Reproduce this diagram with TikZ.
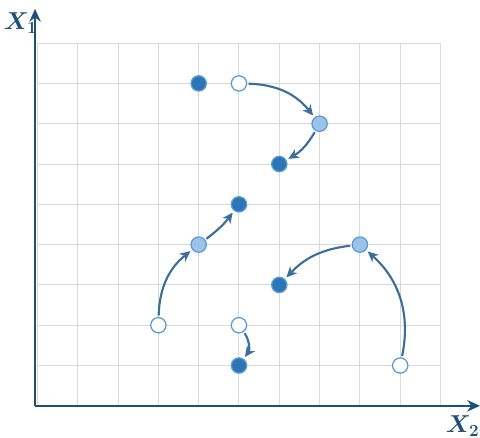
\documentclass[tikz,border=0pt]{standalone}
\usepackage{amsmath,bm}
\usetikzlibrary{arrows,arrows.meta,positioning,calc}
\definecolor{axisblue}{HTML}{1F4E79}
\definecolor{edgeblue}{HTML}{3C6E9C}
\definecolor{ringblue}{HTML}{5B9BD5}
\definecolor{darkpt}{HTML}{2E75B6}
\definecolor{lightpt}{HTML}{9DC3E6}
\definecolor{gridgray}{HTML}{D9D9D9}

\begin{document}
\begin{tikzpicture}[
    pt/.style={circle, draw=ringblue, line width=0.9pt, minimum size=0.38cm, inner sep=0pt},
    filled/.style={pt, fill=darkpt},
    half/.style={pt, fill=lightpt},
    empty/.style={pt, fill=white},
    arrow/.style={-{Stealth[length=7.5pt,width=7pt]}, line width=1.5pt, edgeblue, shorten >=1.5pt, shorten <=1pt},
    axis/.style={-{Stealth[length=9pt,width=8pt]}, line width=1.6pt, axisblue},
    axlabel/.style={axisblue, font=\fontsize{18}{20}\selectfont}
]
\useasboundingbox (-0.93,-0.79) rectangle (10.98,10.07);

% Grid
\draw[gridgray, line width=0.7pt] (0,0) grid (10,9);

% Axes
\draw[axis] (-0.06,0) -- (10.98,0);
\draw[axis] (-0.06,0) -- (-0.06,9.85);
\node[axlabel] (x1) at (-0.42,9.5) {$\boldsymbol{X}_{\mathbf{1}}$};
\node[axlabel] (x2) at (10.55,-0.5) {$\boldsymbol{X}_{\mathbf{2}}$};

% Nodes
\node[filled] (a0) at (4,8) {};
\node[empty] (a1) at (5,8) {};
\node[half] (a2) at (7,7) {};
\node[filled] (a3) at (6,6) {};

\node[empty] (b1) at (3,2) {};
\node[half] (b2) at (4,4) {};
\node[filled] (b3) at (5,5) {};

\node[empty] (c1) at (5,2) {};
\node[filled] (c2) at (5,1) {};

\node[empty] (d1) at (9,1) {};
\node[half] (d2) at (8,4) {};
\node[filled] (d3) at (6,3) {};

% Edges
\draw[arrow] (a1) to[bend left=25] (a2);
\draw[arrow] (a2) to[bend left=15] (a3);
\draw[arrow] (b1) to[bend left=25] (b2);
\draw[arrow] (b2) to[bend right=8] (b3);
\draw[arrow] (c1) to[bend left=35] (c2);
\draw[arrow] (d1) to[bend right=30] (d2);
\draw[arrow] (d2) to[bend right=20] (d3);
\end{tikzpicture}
\end{document}
